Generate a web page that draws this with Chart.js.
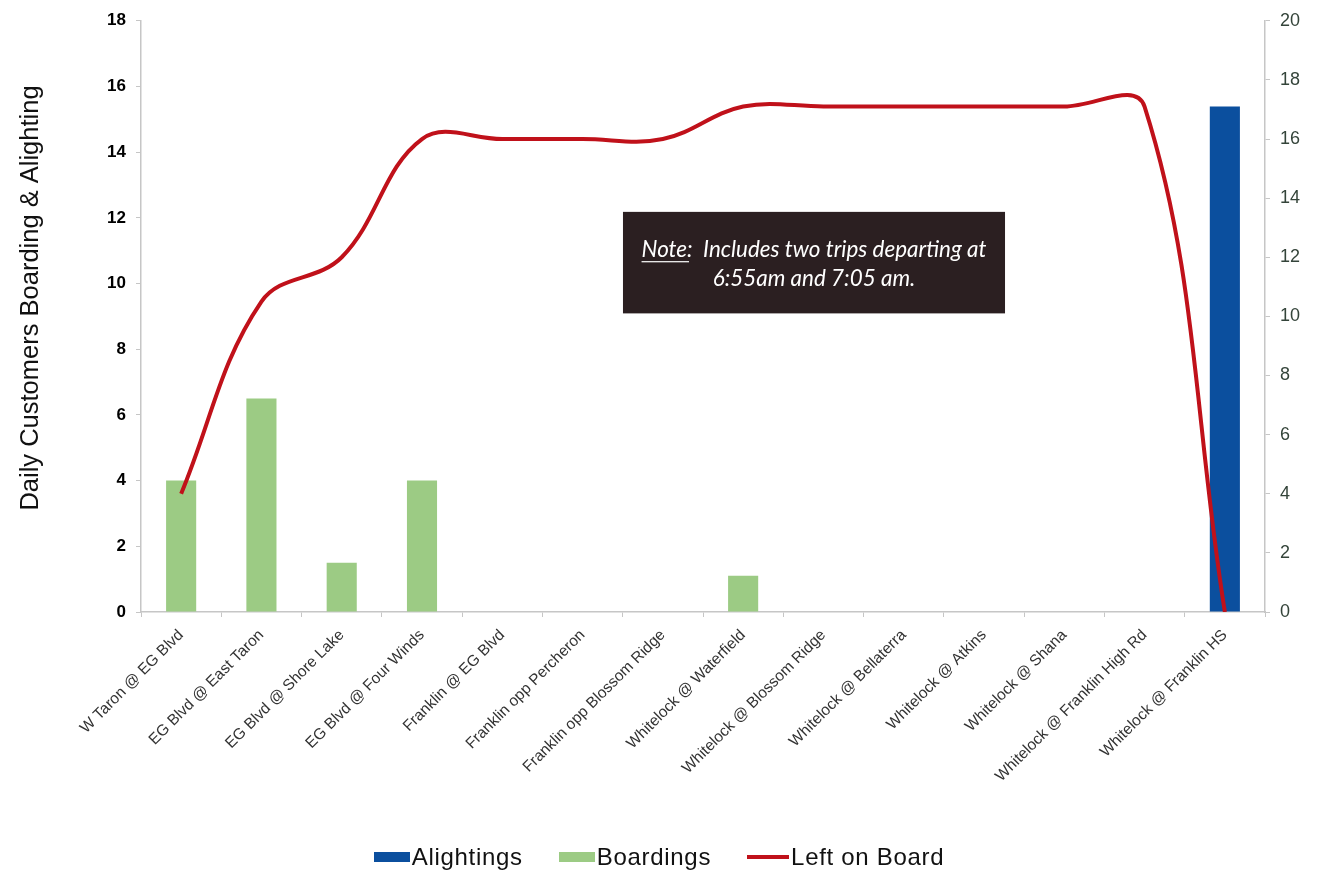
<!DOCTYPE html>
<html>
<head>
<meta charset="utf-8">
<script src="https://cdn.jsdelivr.net/npm/chart.js@4.4.1/dist/chart.umd.min.js"></script>
<style>
  html, body { margin: 0; padding: 0; background: #fff; }
  #wrap { position: relative; width: 1318px; height: 874px; }
  #legend {
    position: absolute; left: 0; top: 842px; width: 1318px; height: 30px;
    display: flex; justify-content: center; align-items: center;
    font-family: 'Liberation Sans', Arial, sans-serif; font-size: 24px; letter-spacing: 0.7px; color: #111;
  }
  .item { display: flex; align-items: center; margin: 0 18px; }
  .swatch { width: 36px; height: 10px; margin-right: 2px; }
  .swatch.line { height: 4px; width: 42px; }
</style>
</head>
<body>
<div id="wrap">
  <canvas id="c" width="1318" height="874"></canvas>
  <div id="legend"></div>
</div>
<script>
// Bus stops along the route, in order
const stops = [
  'W Taron @ EG Blvd',
  'EG Blvd @ East Taron',
  'EG Blvd @ Shore Lake',
  'EG Blvd @ Four Winds',
  'Franklin @ EG Blvd',
  'Franklin opp Percheron',
  'Franklin opp Blossom Ridge',
  'Whitelock @ Waterfield',
  'Whitelock @ Blossom Ridge',
  'Whitelock @ Bellaterra',
  'Whitelock @ Atkins',
  'Whitelock @ Shana',
  'Whitelock @ Franklin High Rd',
  'Whitelock @ Franklin HS'
];

// Daily customers per stop
const boardings   = [4, 6.5, 1.5, 4, 0, 0, 0, 1.1, 0, 0, 0, 0, 0, 0];
const alightings  = [0, 0, 0, 0, 0, 0, 0, 0, 0, 0, 0, 0, 0, 17.1];
const leftOnBoard = [4, 10.5, 12, 16, 16, 16, 16, 17.1, 17.1, 17.1, 17.1, 17.1, 17.1, 0];

// Axis tick values
const leftTicks  = [0, 2, 4, 6, 8, 10, 12, 14, 16, 18];
const rightTicks = [0, 2, 4, 6, 8, 10, 12, 14, 16, 18, 20];

const FONT = "'Liberation Sans', Arial, sans-serif";
const AXIS_GREY = '#c6c6c6';

// Vertical axis title on the left edge
const axisTitle = {
  id: 'axisTitle',
  afterDraw(chart) {
    const ctx = chart.ctx;
    ctx.save();
    ctx.translate(31, 298);
    ctx.rotate(-Math.PI / 2);
    ctx.font = '25.5px ' + FONT;
    ctx.fillStyle = '#111';
    ctx.textAlign = 'center';
    ctx.textBaseline = 'middle';
    ctx.fillText('Daily Customers Boarding & Alighting', 0, 0);
    ctx.restore();
  }
};

// Dark note box inside the plot
const noteBox = {
  id: 'noteBox',
  afterDatasetsDraw(chart) {
    const { ctx, chartArea: a } = chart;
    const x0 = a.left + a.width * 0.4288, x1 = a.left + a.width * 0.7687;
    const y0 = a.top + a.height * 0.3232, y1 = a.top + a.height * 0.4949;
    ctx.save();
    ctx.fillStyle = '#2b1f21';
    ctx.fillRect(x0, y0, x1 - x0, y1 - y0);

    const head = 'Note:';
    const rest = '  Includes two trips departing at';
    const line2 = '6:55am and 7:05 am.';
    const fam = "Lato, 'Open Sans', sans-serif";
    ctx.font = 'italic 18px ' + fam;
    const w18 = ctx.measureText(head + rest).width;
    const size = 18 * (a.width * 0.307) / w18;
    ctx.font = 'italic ' + size.toFixed(2) + 'px ' + fam;
    ctx.fillStyle = '#fff';
    ctx.textBaseline = 'middle';
    ctx.textAlign = 'left';
    const cx = (x0 + x1) / 2;
    const ly1 = a.top + a.height * 0.3875;
    const ly2 = a.top + a.height * 0.4365;
    const wHead = ctx.measureText(head).width;
    const wAll = ctx.measureText(head + rest).width;
    const sx = cx - wAll / 2;
    ctx.fillText(head, sx, ly1);
    ctx.fillText(rest, sx + wHead, ly1);
    ctx.fillRect(sx, ly1 + size * 0.5, ctx.measureText('Note').width + 2, 1.2);
    ctx.textAlign = 'center';
    ctx.fillText(line2, cx, ly2);
    ctx.restore();
  }
};

const chart = new Chart(document.getElementById('c'), {
  type: 'bar',
  data: {
    labels: stops,
    datasets: [
      {
        type: 'line',
        label: 'Left on Board',
        data: leftOnBoard,
        yAxisID: 'y1',
        borderColor: '#c0111a',
        backgroundColor: '#c0111a',
        borderWidth: 4,
        pointRadius: 0,
        tension: 0.38,
        fill: false
      },
      {
        label: 'Alightings',
        data: alightings,
        yAxisID: 'y1',
        backgroundColor: '#0b4f9e',
        grouped: false,
        barPercentage: 0.375,
        categoryPercentage: 1
      },
      {
        label: 'Boardings',
        data: boardings,
        yAxisID: 'y',
        backgroundColor: '#9ccb84',
        grouped: false,
        barPercentage: 0.375,
        categoryPercentage: 1
      }
    ]
  },
  options: {
    responsive: false,
    animation: false,
    devicePixelRatio: 1,
    layout: { padding: { top: 18, left: 0, right: 0, bottom: 0 } },
    plugins: { legend: { display: false }, tooltip: { enabled: false } },
    scales: {
      x: {
        grid: { drawOnChartArea: false, tickLength: 5, color: AXIS_GREY, offset: true },
        border: { color: AXIS_GREY, width: 1.5 },
        ticks: {
          autoSkip: false, minRotation: 45, maxRotation: 45, padding: 9,
          color: '#333', font: { family: FONT, size: 15.5 }
        },
        afterFit(s) { s.height = 262; }
      },
      y: {
        position: 'left',
        min: 0, max: 18,
        grid: { drawOnChartArea: false, tickLength: 5, color: AXIS_GREY },
        border: { color: AXIS_GREY, width: 1.5 },
        ticks: { padding: 10, color: '#000', font: { family: FONT, size: 17, weight: 'bold' } },
        afterBuildTicks(s) { s.ticks = leftTicks.map(v => ({ value: v })); },
        afterFit(s) { s.width = 141; }
      },
      y1: {
        position: 'right',
        min: 0, max: 20,
        grid: { drawOnChartArea: false, tickLength: 5, color: AXIS_GREY },
        border: { color: AXIS_GREY, width: 1.5 },
        ticks: { padding: 10, color: '#34443a', font: { family: FONT, size: 18 } },
        afterBuildTicks(s) { s.ticks = rightTicks.map(v => ({ value: v })); },
        afterFit(s) { s.width = 53; }
      }
    }
  },
  plugins: [axisTitle, noteBox]
});

// Legend below the chart, in series order Alightings, Boardings, Left on Board
const legendOrder = [1, 2, 0];
const legendEl = document.getElementById('legend');
legendOrder.forEach(i => {
  const ds = chart.data.datasets[i];
  const item = document.createElement('div');
  item.className = 'item';
  const sw = document.createElement('span');
  sw.className = 'swatch' + (ds.type === 'line' ? ' line' : '');
  sw.style.background = ds.type === 'line' ? ds.borderColor : ds.backgroundColor;
  const txt = document.createElement('span');
  txt.textContent = ds.label;
  item.appendChild(sw);
  item.appendChild(txt);
  legendEl.appendChild(item);
});
</script>
</body>
</html>
